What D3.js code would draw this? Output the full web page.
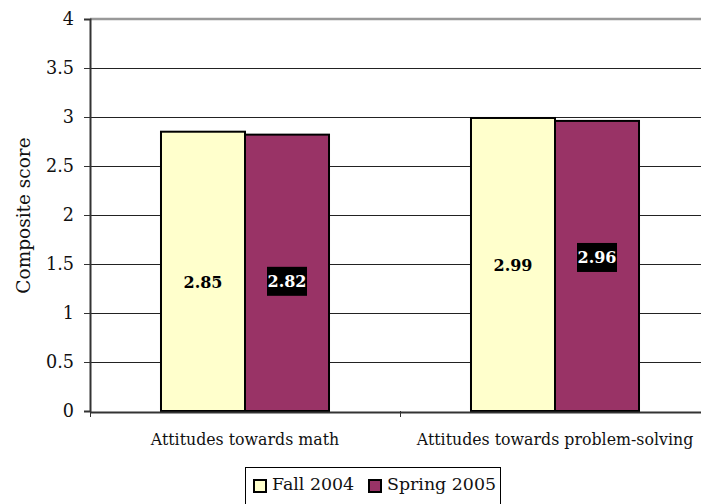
<!DOCTYPE html>
<html>
<head>
<meta charset="utf-8">
<script src="https://cdn.jsdelivr.net/npm/d3@7"></script>
<style>
  html, body { margin: 0; padding: 0; background: #fff; }
  svg { display: block; }
  svg text { font-family: "DejaVu Serif", serif; }
</style>
</head>
<body>
<script>
// Composite attitude scores, two survey waves
const categories = ["Attitudes towards math", "Attitudes towards problem-solving"];
const seriesNames = ["Fall 2004", "Spring 2005"];
const fall2004 = [2.85, 2.99];
const spring2005 = [2.82, 2.96];
const yTicks = [0, 0.5, 1, 1.5, 2, 2.5, 3, 3.5, 4];
const yLabel = "Composite score";

const W = 701, H = 504;
const plotL = 90, plotR = 710, plotT = 19, plotB = 411;
const colors = ["#FFFFCC", "#993366"];
const series = [fall2004, spring2005];
// vertical nudge of each value label from its bar's midpoint, [category][series]
const labelNudge = [[10.5, 8.5], [0.5, -8.5]];

const svg = d3.select("body").append("svg").attr("width", W).attr("height", H);

const x = d3.scaleBand().domain(categories).range([plotL, plotR]);
const xs = d3.scaleBand().domain(seriesNames).range([0, x.bandwidth()]).paddingInner(0).paddingOuter(0.845);
const y = d3.scaleLinear().domain([0, 4]).range([plotB, plotT]);

// horizontal gridlines
svg.append("g").selectAll("line").data(yTicks.filter(t => t > 0 && t < 4)).join("line")
  .attr("x1", plotL).attr("x2", W).attr("y1", d => Math.round(y(d)) + 0.5).attr("y2", d => Math.round(y(d)) + 0.5)
  .attr("stroke", "#222").attr("stroke-width", 1);
svg.append("line").attr("x1", plotL).attr("x2", W).attr("y1", y(4)).attr("y2", y(4))
  .attr("stroke", "#999").attr("stroke-width", 2.5);

// bars
const rows = [];
categories.forEach((c, i) => seriesNames.forEach((s, j) => rows.push({ c, s, i, j, v: series[j][i] })));
svg.append("g").selectAll("rect").data(rows).join("rect")
  .attr("x", d => x(d.c) + xs(d.s))
  .attr("y", d => y(d.v))
  .attr("width", xs.bandwidth())
  .attr("height", d => y(0) - y(d.v))
  .attr("fill", d => colors[d.j])
  .attr("stroke", "#000").attr("stroke-width", 2);

// y axis
const yAxis = svg.append("g").attr("transform", `translate(${plotL},0)`)
  .call(d3.axisLeft(y).tickValues(yTicks).tickSize(6).tickPadding(10).tickFormat(d3.format("")));
yAxis.attr("font-family", null);
yAxis.select(".domain").attr("stroke", "#333").attr("stroke-width", 2);
yAxis.selectAll(".tick line").attr("stroke", "#333");
yAxis.selectAll("text").attr("font-size", 17.6).attr("fill", "#111");

// x axis
const xAxis = svg.append("g").attr("transform", `translate(0,${plotB + 1})`)
  .call(d3.axisBottom(x).tickSize(0).tickPadding(22));
xAxis.attr("font-family", null);
xAxis.select(".domain").attr("stroke", "#333").attr("stroke-width", 2);
xAxis.selectAll("text").attr("font-size", 15.8).attr("fill", "#111");
svg.append("g").selectAll("line").data([plotL, plotL + x.step()]).join("line")
  .attr("x1", d => d + 0.5).attr("x2", d => d + 0.5).attr("y1", plotB).attr("y2", plotB + 6)
  .attr("stroke", "#333");

// value labels
const lbl = svg.append("g").selectAll("g").data(rows).join("g")
  .attr("transform", d => `translate(${x(d.c) + xs(d.s) + xs.bandwidth() / 2},${y(d.v / 2) + labelNudge[d.i][d.j]})`);
lbl.filter(d => d.j === 1).append("rect")
  .attr("x", -20).attr("y", -14.5).attr("width", 40).attr("height", 29).attr("fill", "#000");
lbl.append("text").attr("text-anchor", "middle").attr("dy", "0.36em")
  .attr("font-size", 16).attr("font-weight", "bold")
  .attr("fill", d => d.j ? "#fff" : "#000")
  .text(d => d.v.toFixed(2));

// y axis title
svg.append("text").attr("transform", `translate(30,${(plotT + plotB) / 2 + 0.5}) rotate(-90)`)
  .attr("text-anchor", "middle").attr("font-size", 18.5).attr("fill", "#111").text(yLabel);

// legend
const lg = svg.append("g").attr("transform", "translate(245.5,467.5)");
lg.append("rect").attr("x", 0).attr("y", 0).attr("width", 255).attr("height", 40)
  .attr("fill", "#fff").attr("stroke", "#000").attr("stroke-width", 1);
const items = [{ n: seriesNames[0], c: colors[0], x: 8.5 }, { n: seriesNames[1], c: colors[1], x: 123.5 }];
items.forEach(it => {
  lg.append("rect").attr("x", it.x).attr("y", 12.5).attr("width", 12).attr("height", 12)
    .attr("fill", it.c).attr("stroke", "#000").attr("stroke-width", 2);
  lg.append("text").attr("x", it.x + 18).attr("y", 22.5).attr("font-size", 17.4).attr("fill", "#111").text(it.n);
});
</script>
</body>
</html>
